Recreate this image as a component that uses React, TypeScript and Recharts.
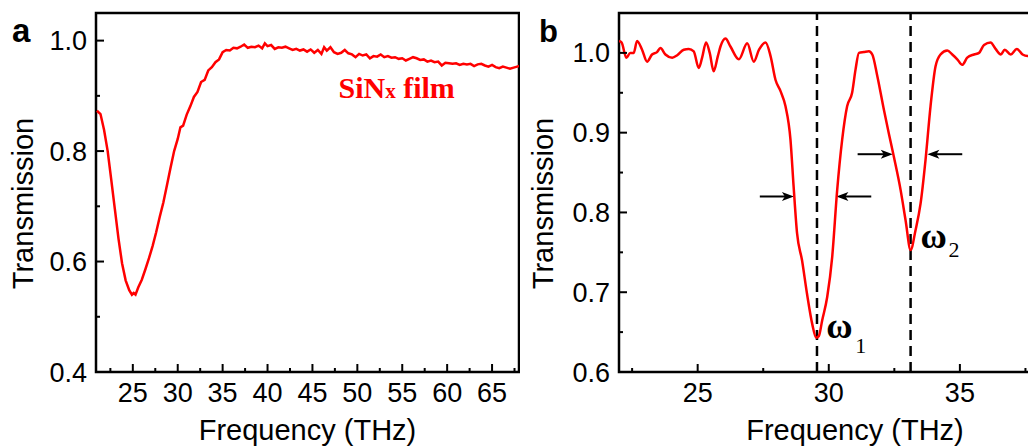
import { LineChart, Line, XAxis, YAxis, ReferenceArea, ReferenceLine, ReferenceDot } from 'recharts';

// panel a: bare SiNx film
const freqA = [
    21.0, 21.4, 21.8, 22.2, 22.6, 23.0, 23.4, 23.8, 24.2, 24.6, 24.9, 25.1, 25.3, 25.6, 26.0, 26.4, 26.8, 27.2,
    27.6, 28.0, 28.4, 28.8, 29.2, 29.6, 30.0, 30.3, 30.6, 31.0, 31.4, 31.8, 32.2, 32.6, 33.0, 33.4, 33.8, 34.2,
    34.6, 35.0, 35.4, 35.8, 36.2, 36.6, 37.0, 37.4, 37.8, 38.2, 38.6, 39.0, 39.4, 39.7, 40.0, 40.4, 40.8, 41.2,
    41.6, 42.0, 42.4, 42.8, 43.2, 43.6, 44.0, 44.4, 44.8, 45.2, 45.6, 46.0, 46.3, 46.6, 47.0, 47.4, 47.8, 48.2,
    48.6, 49.0, 49.4, 49.8, 50.2, 50.6, 51.0, 51.4, 51.8, 52.2, 52.6, 53.0, 53.4, 53.8, 54.2, 54.6, 55.0, 55.4,
    55.8, 56.2, 56.6, 57.0, 57.4, 57.8, 58.2, 58.6, 59.0, 59.4, 59.8, 60.2, 60.6, 61.0, 61.4, 61.8, 62.2, 62.6,
    63.0, 63.4, 63.8, 64.2, 64.6, 65.0, 65.4, 65.8, 66.2, 66.6, 67.0, 67.4, 67.8, 68.0,
];
const transA = [
    0.873, 0.867, 0.838, 0.8, 0.748, 0.695, 0.642, 0.597, 0.566, 0.548, 0.54, 0.543, 0.54, 0.553, 0.567, 0.586, 0.606, 0.628,
    0.653, 0.681, 0.707, 0.738, 0.77, 0.8, 0.822, 0.843, 0.846, 0.866, 0.881, 0.898, 0.907, 0.925, 0.929, 0.946, 0.952, 0.961,
    0.966, 0.979, 0.983, 0.982, 0.987, 0.986, 0.989, 0.993, 0.987, 0.989, 0.988, 0.991, 0.986, 0.995, 0.99, 0.992, 0.985, 0.988,
    0.987, 0.989, 0.986, 0.983, 0.985, 0.982, 0.984, 0.98, 0.984, 0.978, 0.983, 0.976, 0.988, 0.982, 0.988, 0.979, 0.976, 0.978,
    0.983, 0.977, 0.975, 0.97, 0.976, 0.973, 0.975, 0.968, 0.972, 0.971, 0.975, 0.97, 0.972, 0.969, 0.97, 0.967, 0.968, 0.964,
    0.967, 0.97, 0.968, 0.965, 0.966, 0.962, 0.964, 0.961, 0.962, 0.955, 0.96, 0.959, 0.958, 0.959, 0.956, 0.958, 0.957, 0.958,
    0.954, 0.957, 0.958, 0.955, 0.953, 0.956, 0.952, 0.95, 0.953, 0.951, 0.949, 0.951, 0.953, 0.954,
];

// panel b: two resonance dips
const freqB = [
    22.0, 22.1, 22.28, 22.43, 22.56, 22.69, 22.88, 23.07, 23.26, 23.45, 23.58, 23.77, 24.03, 24.22, 24.47, 24.66, 24.85, 25.04,
    25.17, 25.32, 25.46, 25.61, 25.77, 25.87, 26.06, 26.25, 26.57, 26.89, 27.14, 27.34, 27.59, 27.78, 27.97, 28.16, 28.35, 28.54,
    28.66, 28.79, 28.98, 29.17, 29.37, 29.52, 29.62, 29.75, 29.94, 30.13, 30.32, 30.51, 30.7, 30.89, 31.02, 31.15, 31.34, 31.53,
    31.66, 31.85, 32.1, 32.29, 32.48, 32.74, 32.93, 33.12, 33.31, 33.5, 33.69, 33.88, 34.07, 34.26, 34.52, 34.71, 34.9, 35.09,
    35.28, 35.54, 35.73, 35.92, 36.17, 36.36, 36.56, 36.71, 36.94, 37.17, 37.39, 37.58, 37.8,
];
const transB = [
    1.015, 1.013, 0.994, 1.0, 1.0, 1.015, 1.004, 0.989, 0.998, 1.001, 1.006, 0.998, 0.994, 0.997, 1.004, 1.005, 1.002, 0.981,
    0.994, 1.013, 1.0, 0.977, 0.996, 1.008, 1.018, 1.008, 0.992, 1.012, 0.989, 1.004, 1.013, 0.996, 0.966, 0.952, 0.933, 0.891,
    0.832, 0.774, 0.74, 0.698, 0.66, 0.643, 0.645, 0.665, 0.694, 0.744, 0.828, 0.891, 0.933, 0.95, 0.979, 1.0, 1.001, 1.002,
    0.998, 0.971, 0.929, 0.899, 0.87, 0.828, 0.79, 0.753, 0.778, 0.811, 0.866, 0.933, 0.983, 0.998, 1.003, 0.998, 0.992, 0.985,
    0.994, 0.998, 1.0, 1.01, 1.013, 1.005, 0.998, 1.004, 0.998, 1.005, 0.998, 0.996, 0.997,
];

const xMajorA = [25, 30, 35, 40, 45, 50, 55, 60, 65];
const xMinorA = [22.5, 27.5, 32.5, 37.5, 42.5, 47.5, 52.5, 57.5, 62.5, 67.5];
const yMajorA = [0.4, 0.6, 0.8, 1.0];
const yMinorA = [0.5, 0.7, 0.9];

const xMajorB = [25, 30, 35];
const xMinorB = [22.5, 27.5, 32.5, 37.5];
const yMajorB = [0.6, 0.7, 0.8, 0.9, 1.0];
const yMinorB = [0.65, 0.75, 0.85, 0.95];

// dip centres and the half-width arrows of panel b
const dips = [29.55, 33.12];
const arrows = [
    { from: 27.37, to: 28.67, y: 0.82 },
    { from: 31.62, to: 30.29, y: 0.82 },
    { from: 31.1, to: 32.44, y: 0.873 },
    { from: 35.09, to: 33.76, y: 0.873 },
];

const dataA = freqA.map((f, i) => ({ f, t: transA[i] }));
const dataB = freqB.map((f, i) => ({ f, t: transB[i] }));

const SANS = 'Arial, "Liberation Sans", Helvetica, sans-serif';
const SERIF = '"Times New Roman", "Liberation Serif", serif';
const RED = '#ff0000';

const merge = (a: number[], b: number[]) => [...a, ...b].sort((p, q) => p - q);

const xTick = (majors: number[]) => (props: any) => {
    const { x, y, payload } = props;
    const major = majors.includes(payload.value);
    return (
        <g>
            <line x1={x} y1={y} x2={x} y2={y - (major ? 8 : 4)} stroke="#000" strokeWidth={2} />
            {major && (
                <text x={x} y={y + 30} textAnchor="middle" fontFamily={SANS} fontSize={27} fill="#000">
                    {payload.value}
                </text>
            )}
        </g>
    );
};

const yTick = (majors: number[]) => (props: any) => {
    const { x, y, payload } = props;
    const major = majors.includes(payload.value);
    return (
        <g>
            <line x1={x} y1={y} x2={x + (major ? 8 : 4)} y2={y} stroke="#000" strokeWidth={2} />
            {major && (
                <text x={x - 9} y={y + 9.5} textAnchor="end" fontFamily={SANS} fontSize={27} fill="#000">
                    {payload.value.toFixed(1)}
                </text>
            )}
        </g>
    );
};

const xTitle = (props: any) => {
    const { x, y, width } = props.viewBox;
    return (
        <text x={x + width / 2} y={y + 68} textAnchor="middle" fontFamily={SANS} fontSize={29} fill="#000">
            Frequency (THz)
        </text>
    );
};

const yTitle = (props: any) => {
    const { x, y, height } = props.viewBox;
    const cx = x + 33;
    const cy = y + height / 2 + 11;
    return (
        <text x={cx} y={cy} transform={`rotate(-90, ${cx}, ${cy})`} textAnchor="middle" fontFamily={SANS} fontSize={29} fill="#000">
            Transmission
        </text>
    );
};

const Arrow = (p: any) => {
    const { x1, y1, x2, y2 } = p;
    const d = Math.sign(x2 - x1);
    return (
        <g>
            <line x1={x1} y1={y1} x2={x2 - d * 4} y2={y2} stroke="#000" strokeWidth={2} />
            <path d={`M${x2},${y2} L${x2 - d * 12},${y2 - 4.5} L${x2 - d * 9},${y2} L${x2 - d * 12},${y2 + 4.5} Z`} fill="#000" />
        </g>
    );
};

const omega = (sub: string, dx: number, dy: number, sdx: number, sdy: number) => (props: any) => {
    const { x, y, width, height } = props.viewBox;
    const cx = x + width / 2;
    const cy = y + height / 2;
    return (
        <g fontFamily={SERIF} fill="#000">
            <text x={cx + dx} y={cy + dy} fontSize={36} fontWeight="bold">ω</text>
            <text x={cx + sdx} y={cy + sdy} fontSize={22}>{sub}</text>
        </g>
    );
};

const filmLabel = (props: any) => {
    const { x, y } = props.viewBox;
    return (
        <text x={x} y={y} fontFamily={SERIF} fontWeight="bold" fontSize={30} fill={RED}>
            SiN<tspan fontSize={21}>x</tspan> film
        </text>
    );
};

export default function App() {
    return (
        <div style={{ position: 'fixed', left: 0, top: 0, width: 1028, height: 448, overflow: 'hidden', background: '#fff' }}>
            <div style={{ position: 'absolute', left: 0, top: 0 }}>
                <LineChart width={520} height={448} data={dataA} margin={{ top: 13, right: 1, left: 0, bottom: 0 }}>
                    <XAxis
                        dataKey="f" type="number" domain={[20.9, 68]} allowDataOverflow ticks={merge(xMajorA, xMinorA)}
                        interval={0} tickSize={0} tickMargin={0} axisLine={false} tick={xTick(xMajorA)} height={76}
                        label={{ content: xTitle }}
                    />
                    <YAxis
                        type="number" domain={[0.4, 1.05]} allowDataOverflow ticks={merge(yMajorA, yMinorA)}
                        interval={0} tickSize={0} tickMargin={0} axisLine={false} tick={yTick(yMajorA)} width={96}
                        label={{ content: yTitle }}
                    />
                    <ReferenceArea x1={20.9} x2={68} y1={0.4} y2={1.05} fill="none" stroke="#000" strokeWidth={2.5} ifOverflow="visible" />
                    <ReferenceDot x={47.9} y={0.896} r={0} label={{ content: filmLabel }} />
                    <Line dataKey="t" type="linear" stroke={RED} strokeWidth={2.5} dot={false} isAnimationActive={false} />
                    <text x={12} y={42} fontFamily={SANS} fontWeight="bold" fontSize={33} fill="#000">a</text>
                </LineChart>
            </div>
            <div style={{ position: 'absolute', left: 520, top: 0 }}>
                <LineChart width={571} height={448} data={dataB} margin={{ top: 13, right: 0, left: 0, bottom: 0 }}>
                    <XAxis
                        dataKey="f" type="number" domain={[22, 40]} allowDataOverflow ticks={merge(xMajorB, xMinorB)}
                        interval={0} tickSize={0} tickMargin={0} axisLine={false} tick={xTick(xMajorB)} height={76}
                        label={{ content: xTitle }}
                    />
                    <YAxis
                        type="number" domain={[0.6, 1.05]} allowDataOverflow ticks={merge(yMajorB, yMinorB)}
                        interval={0} tickSize={0} tickMargin={0} axisLine={false} tick={yTick(yMajorB)} width={99}
                        label={{ content: yTitle }}
                    />
                    <ReferenceArea x1={22} x2={40} y1={0.6} y2={1.05} fill="none" stroke="#000" strokeWidth={2.5} ifOverflow="visible" />
                    {dips.map((d) => (
                        <ReferenceLine key={d} x={d} stroke="#000" strokeWidth={2.5} strokeDasharray="10 6" />
                    ))}
                    {arrows.map((a, i) => (
                        <ReferenceLine key={i} segment={[{ x: a.from, y: a.y }, { x: a.to, y: a.y }]} shape={Arrow} />
                    ))}
                    <ReferenceDot x={29.6} y={0.64} r={0} label={{ content: omega('1', 8, -2, 37, 13) }} />
                    <ReferenceDot x={33.12} y={0.752} r={0} label={{ content: omega('2', 10, -3, 38, 6) }} />
                    <Line dataKey="t" type="monotone" stroke={RED} strokeWidth={2.5} dot={false} isAnimationActive={false} />
                    <text x={19} y={42} fontFamily={SANS} fontWeight="bold" fontSize={31} fill="#000">b</text>
                </LineChart>
            </div>
        </div>
    );
}
